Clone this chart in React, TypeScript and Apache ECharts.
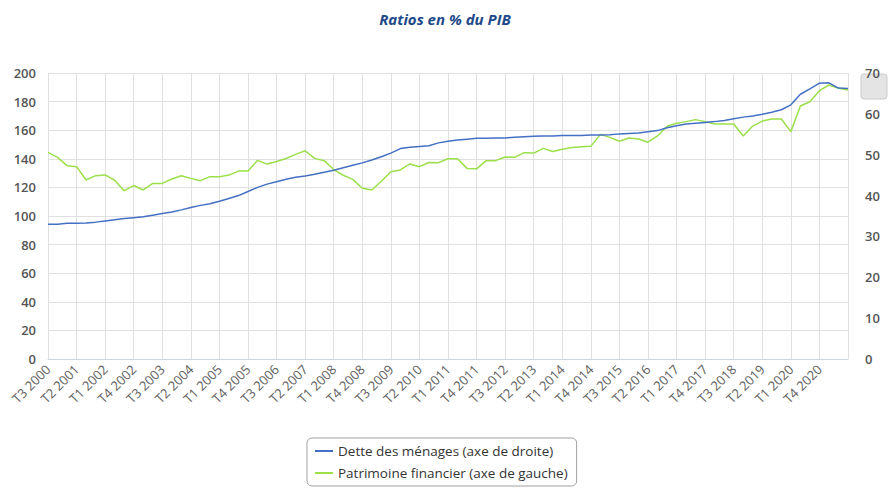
import React, { useEffect, useRef } from "react";
import * as echarts from "echarts";

const quarters: string[] = [
  "T3 2000", "T4 2000",
  "T1 2001", "T2 2001", "T3 2001", "T4 2001",
  "T1 2002", "T2 2002", "T3 2002", "T4 2002",
  "T1 2003", "T2 2003", "T3 2003", "T4 2003",
  "T1 2004", "T2 2004", "T3 2004", "T4 2004",
  "T1 2005", "T2 2005", "T3 2005", "T4 2005",
  "T1 2006", "T2 2006", "T3 2006", "T4 2006",
  "T1 2007", "T2 2007", "T3 2007", "T4 2007",
  "T1 2008", "T2 2008", "T3 2008", "T4 2008",
  "T1 2009", "T2 2009", "T3 2009", "T4 2009",
  "T1 2010", "T2 2010", "T3 2010", "T4 2010",
  "T1 2011", "T2 2011", "T3 2011", "T4 2011",
  "T1 2012", "T2 2012", "T3 2012", "T4 2012",
  "T1 2013", "T2 2013", "T3 2013", "T4 2013",
  "T1 2014", "T2 2014", "T3 2014", "T4 2014",
  "T1 2015", "T2 2015", "T3 2015", "T4 2015",
  "T1 2016", "T2 2016", "T3 2016", "T4 2016",
  "T1 2017", "T2 2017", "T3 2017", "T4 2017",
  "T1 2018", "T2 2018", "T3 2018", "T4 2018",
  "T1 2019", "T2 2019", "T3 2019", "T4 2019",
  "T1 2020", "T2 2020", "T3 2020", "T4 2020",
  "T1 2021", "T2 2021", "T3 2021",
];

// Dette des ménages, % du PIB (axe de droite)
const detteMenages: number[] = [
  33.0, 33.0, 33.2, 33.2, 33.3, 33.5, 33.8, 34.1, 34.4, 34.6,
  34.8, 35.2, 35.6, 36.0, 36.5, 37.1, 37.6, 38.0, 38.6, 39.3,
  40.0, 41.0, 42.0, 42.8, 43.4, 44.0, 44.5, 44.8, 45.2, 45.7,
  46.2, 46.8, 47.4, 48.0, 48.7, 49.5, 50.4, 51.5, 51.8, 52.0,
  52.2, 52.9, 53.3, 53.6, 53.8, 54.0, 54.05, 54.1, 54.1, 54.3,
  54.4, 54.5, 54.6, 54.6, 54.7, 54.7, 54.7, 54.8, 54.8, 54.9,
  55.1, 55.2, 55.3, 55.6, 55.9, 56.6, 57.1, 57.5, 57.7, 57.9,
  58.1, 58.4, 58.8, 59.2, 59.5, 59.9, 60.4, 61.0, 62.2, 64.8,
  66.1, 67.5, 67.6, 66.3, 66.2,
];

// Patrimoine financier, % du PIB (axe de gauche)
const patrimoineFinancier: number[] = [
  144.5, 141.0, 135.2, 134.5, 125.2, 128.2, 128.7, 125.0, 117.7, 121.3,
  118.2, 122.8, 122.8, 125.9, 128.2, 126.3, 124.7, 127.5, 127.5, 128.6,
  131.4, 131.5, 138.9, 136.3, 138.1, 140.2, 143.1, 145.6, 140.3, 138.7,
  132.5, 128.5, 125.6, 119.4, 118.2, 124.3, 131.0, 132.2, 136.4, 134.5,
  137.4, 137.3, 140.0, 140.0, 133.3, 133.0, 138.7, 138.7, 141.3, 141.0,
  144.3, 144.0, 147.3, 145.1, 146.7, 147.9, 148.5, 148.7, 157.1, 155.0,
  152.3, 154.6, 153.8, 151.6, 156.0, 162.7, 164.8, 166.0, 167.4, 166.0,
  164.3, 164.3, 164.3, 155.9, 162.9, 166.4, 167.8, 167.8, 159.0, 176.9,
  179.9, 187.6, 191.6, 189.3, 188.1,
];

const leftTicks = { min: 0, max: 200, interval: 20 };
const rightTicks = { min: 0, max: 70, interval: 10 };

const title = "Ratios en % du PIB";
const nameDette = "Dette des ménages (axe de droite)";
const namePatrimoine = "Patrimoine financier (axe de gauche)";

const FONT = "'Open Sans', 'Noto Sans', sans-serif";

export default function App() {
  const ref = useRef<HTMLDivElement>(null);

  useEffect(() => {
    if (!ref.current) return;
    const chart = echarts.init(ref.current, undefined, { renderer: "svg" });
    const lastIdx = quarters.length - 1;
    chart.setOption({
      animation: false,
      backgroundColor: "#ffffff",
      textStyle: { fontFamily: FONT },
      title: {
        text: title,
        left: "center",
        top: 6,
        textStyle: {
          fontFamily: FONT,
          fontSize: 15,
          fontStyle: "italic",
          fontWeight: "bold",
          color: "#1f4a8a",
        },
      },
      grid: { left: 48, right: 42, top: 73, bottom: 129, containLabel: false },
      legend: {
        orient: "vertical",
        left: 307,
        top: 438,
        padding: [6, 9, 6, 8],
        itemGap: 8,
        itemWidth: 18,
        itemHeight: 2,
        icon: "rect",
        borderColor: "#a0a0a0",
        borderWidth: 1,
        borderRadius: 5,
        textStyle: { fontFamily: FONT, fontSize: 13.5, color: "#333333" },
        data: [nameDette, namePatrimoine],
      },
      xAxis: {
        type: "category",
        data: quarters,
        boundaryGap: false,
        axisLine: { show: true, lineStyle: { color: "#ccd6e0" } },
        axisTick: { show: false },
        splitLine: {
          show: true,
          interval: 2,
          lineStyle: { color: "#e0e0e0", width: 1 },
        },
        axisLabel: {
          interval: (idx: number) => idx % 3 === 0 && idx < lastIdx,
          rotate: 45,
          margin: 8,
          fontFamily: FONT,
          fontSize: 13,
          color: "#606060",
        },
      },
      yAxis: [
        {
          type: "value",
          min: leftTicks.min,
          max: leftTicks.max,
          interval: leftTicks.interval,
          position: "left",
          axisLine: { show: false },
          axisTick: { show: false },
          splitLine: { show: true, lineStyle: { color: "#e0e0e0", width: 1 } },
          axisLabel: {
            margin: 12,
            fontFamily: FONT,
            fontSize: 13,
            fontWeight: 600,
            color: "#555555",
          },
        },
        {
          type: "value",
          min: rightTicks.min,
          max: rightTicks.max,
          interval: rightTicks.interval,
          position: "right",
          axisLine: { show: false },
          axisTick: { show: false },
          splitLine: { show: false },
          axisLabel: {
            margin: 17,
            fontFamily: FONT,
            fontSize: 13,
            fontWeight: 600,
            color: "#555555",
          },
        },
      ],
      series: [
        {
          name: nameDette,
          type: "line",
          yAxisIndex: 1,
          data: detteMenages,
          showSymbol: false,
          symbol: "none",
          lineStyle: { color: "#4470c4", width: 1.5 },
          itemStyle: { color: "#4470c4" },
          z: 3,
        },
        {
          name: namePatrimoine,
          type: "line",
          yAxisIndex: 0,
          data: patrimoineFinancier,
          showSymbol: false,
          symbol: "none",
          lineStyle: { color: "#9be04a", width: 1.5 },
          itemStyle: { color: "#9be04a" },
          z: 2,
        },
      ],
      graphic: [
        {
          type: "rect",
          z: -10,
          shape: { x: 861, y: 74, width: 26, height: 25, r: 3 },
          style: { fill: "#e4e4e4", stroke: "#cccccc", lineWidth: 1 },
        },
      ],
    });
    return () => chart.dispose();
  }, []);

  return (
    <div
      ref={ref}
      style={{ width: 890, height: 488, position: "absolute", left: 0, top: 0 }}
    />
  );
}
